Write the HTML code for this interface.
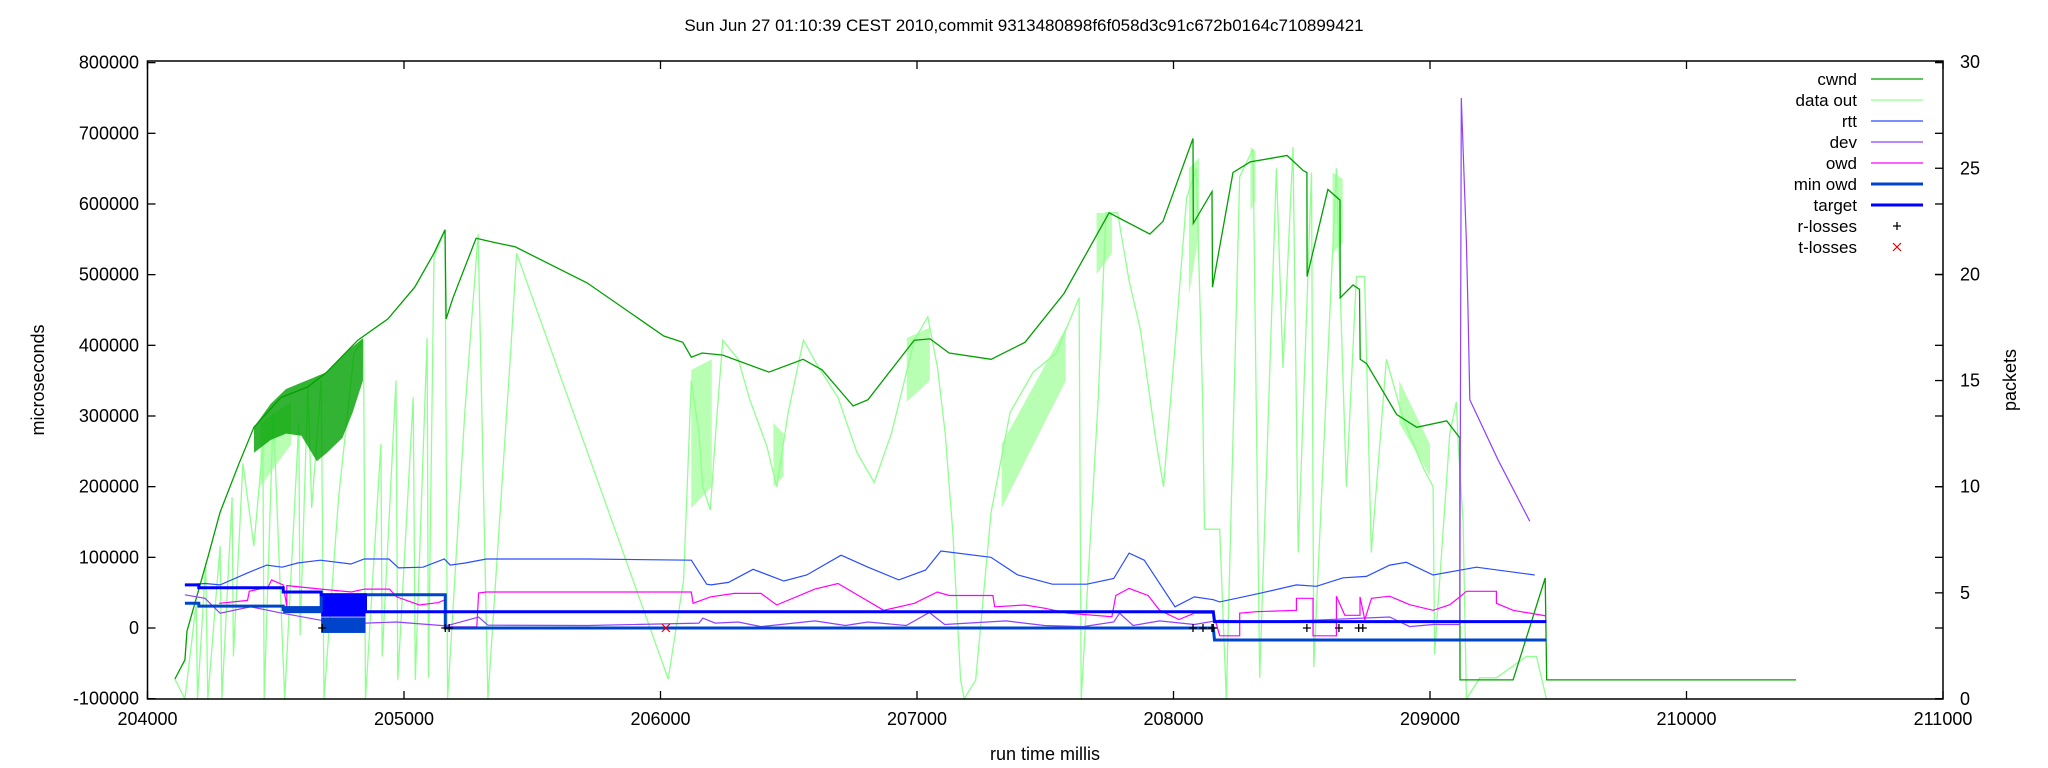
<!DOCTYPE html>
<html><head><meta charset="utf-8"><style>
html,body{margin:0;padding:0;background:#fff;}
svg{display:block;font-family:"Liberation Sans",sans-serif;}
</style></head><body>
<svg id="chart" width="2048" height="768" viewBox="0 0 2048 768">
<defs><clipPath id="plotclip"><rect x="147.5" y="61" width="1795.5" height="638"/></clipPath></defs>
<text x="1024" y="31" text-anchor="middle" font-size="17">Sun Jun 27 01:10:39 CEST 2010,commit 9313480898f6f058d3c91c672b0164c710899421</text>
<g id="axes"></g>
<g id="plot" clip-path="url(#plotclip)"></g>
<rect x="147.5" y="61" width="1795.5" height="638" fill="none" stroke="#000" stroke-width="1.5"/>
<text transform="translate(44,380) rotate(-90)" text-anchor="middle" font-size="18">microseconds</text>
<text transform="translate(2016,380) rotate(-90)" text-anchor="middle" font-size="18">packets</text>
<text x="1045" y="760" text-anchor="middle" font-size="18">run time millis</text>
<g id="legend"></g>
</svg>
<script>
// ---- data ----
const xTicks = [204000,205000,206000,207000,208000,209000,210000,211000];
const yTicks = [-100000,0,100000,200000,300000,400000,500000,600000,700000,800000];
const y2Ticks = [0,5,10,15,20,25,30];

const cwnd = [[204107,0.94],[204146,1.84],[204154,3.2],[204236,6.7],[204283,8.8],[204357,11.1],[204415,12.8],[204520,14.2],[204625,14.7],[204699,15.4],[204820,16.9],[204937,17.9],[205042,19.4],[205117,21.0],[205160,22.1],[205164,17.9],[205191,18.9],[205281,21.7],[205355,21.5],[205433,21.3],[205714,19.6],[206013,17.1],[206087,16.8],[206120,16.1],[206162,16.3],[206243,16.2],[206423,15.4],[206556,16.0],[206630,15.5],[206751,13.8],[206809,14.1],[206989,16.9],[207051,16.96],[207125,16.3],[207289,16.0],[207421,16.8],[207573,19.1],[207749,22.9],[207908,21.9],[207959,22.5],[208076,26.4],[208077,22.4],[208150,23.9],[208152,19.4],[208232,24.8],[208299,25.3],[208443,25.6],[208505,24.9],[208520,24.8],[208521,19.9],[208602,24.0],[208649,23.5],[208650,18.9],[208700,19.5],[208725,19.3],[208728,16.0],[208753,15.8],[208870,13.4],[208948,12.8],[209065,13.1],[209116,12.3],[209117,0.9],[209324,0.9],[209449,5.7],[209455,0.9],[210427,0.9]];
const cwndBandMs = [204415,204480,204540,204600,204660,204700,204760,204800,204840];
const cwndBandHigh = [12.8,13.9,14.6,14.9,15.2,15.4,16.2,16.6,17.0];
const cwndBandLow = [11.6,12.2,12.5,12.4,11.2,11.6,12.3,13.5,15.0];

const dataOut = [[204107,0.94],[204146,0],[204190,4.5],[204195,0],[204227,6.4],[204235,0],[204283,7.2],[204290,0],[204330,9.5],[204335,2],[204372,11.1],[204415,7.2],[204450,12],[204455,0],[204490,13.5],[204535,0],[204590,13],[204595,3],[204625,14.7],[204640,9.0],[204677,15.0],[204688,0],[204745,9.5],[204805,16.3],[204842,16.9],[204850,0],[204910,12],[204915,2],[204969,15.0],[204976,0.9],[205036,14.2],[205044,0.9],[205090,17],[205095,1],[205117,20.8],[205160,22.1],[205170,0],[205237,13.5],[205289,21.9],[205327,0],[205417,16.6],[205439,21.0],[206030,0.94],[206090,5.6],[206120,15.0],[206150,12.5],[206165,10.0],[206194,8.9],[206217,12.9],[206243,16.9],[206303,16.0],[206348,14.1],[206415,11.9],[206453,10.0],[206498,13.5],[206557,16.9],[206617,15.6],[206692,14.2],[206766,11.6],[206833,10.2],[206900,12.5],[206990,16.9],[207042,18.0],[207080,15.6],[207110,12.5],[207140,7.8],[207170,0.9],[207184,0],[207229,0.9],[207289,8.8],[207363,13.5],[207453,15.4],[207543,16.3],[207632,18.9],[207640,0],[207707,14.2],[207737,22.9],[207782,22.9],[207827,19.7],[207871,17.4],[207931,12.2],[207961,10.0],[208006,16.6],[208051,23.6],[208089,25.0],[208114,14.0],[208121,8.0],[208180,8.0],[208206,0],[208258,24.6],[208310,25.9],[208336,1.0],[208401,25.0],[208427,15.6],[208466,26.0],[208486,6.9],[208538,24.8],[208547,1.5],[208635,25.0],[208674,10.0],[208713,19.9],[208745,19.9],[208771,6.9],[208830,16.0],[208895,13.2],[208973,10.9],[209012,10.0],[209018,2.1],[209077,12.5],[209103,14.0],[209110,12.0],[209129,8.4],[209142,0],[209194,1.0],[209259,1.0],[209376,2.0],[209415,2.0],[209454,0]];
const doBandMs = [204440,206120,206440,206960,207330,207700,208060,208300,208620,208880];
const doBandEndMs = [204560,206200,206480,207050,207580,207760,208100,208320,208660,209000];
const doBandLowStart = [10.0,9.0,10.0,14.0,9.0,20.0,19.0,23.0,21.0,13.0];
const doBandHighStart = [13.0,15.5,13.0,17.0,12.0,22.9,25.0,26.0,24.8,15.0];
const doBandLowEnd = [12.0,10.0,10.5,15.0,15.0,21.0,22.0,23.5,21.5,10.5];
const doBandHighEnd = [14.0,16.0,12.5,17.5,17.5,22.9,25.5,25.8,24.5,12.0];

const rtt = [[204146,61000],[204224,63000],[204283,61000],[204390,78000],[204465,89000],[204525,86000],[204585,92000],[204674,96000],[204793,90600],[204845,97600],[204941,97600],[204979,85000],[205074,86000],[205157,97600],[205180,89000],[205239,92000],[205321,97600],[205717,97600],[206120,96000],[206180,62000],[206197,61000],[206265,64500],[206361,83000],[206481,66500],[206570,75000],[206704,103000],[206809,86000],[206929,68000],[207033,82000],[207093,109000],[207288,100000],[207393,75000],[207528,62000],[207662,62000],[207767,70000],[207827,106000],[207886,96000],[208006,30000],[208081,44000],[208155,40000],[208180,37000],[208323,48000],[208479,61000],[208557,59000],[208661,71000],[208752,73000],[208843,89000],[208908,93000],[209012,75000],[209181,86000],[209408,75000]];

const dev = [[204146,47000],[204224,42000],[204283,21000],[204402,30000],[204525,21000],[204674,11000],[204850,7000],[204969,8500],[205164,3000],[205291,15500],[205327,4000],[205717,3500],[206150,7000],[206165,14000],[206213,7000],[206303,8500],[206392,2000],[206602,10000],[206721,3500],[206809,8500],[206958,3500],[207048,22000],[207108,5000],[207347,10000],[207497,3500],[207647,2000],[207767,8500],[207790,21000],[207842,3500],[207946,10000],[208081,5000],[208180,11000],[208323,8500],[208544,11000],[208843,15500],[208921,2000],[209012,5000],[209116,5000],[209122,750000],[209142,546000],[209148,450000],[209155,323000],[209265,238000],[209389,151000]];

const owd = [[204279,35000],[204390,39000],[204397,52000],[204470,58000],[204484,68000],[204529,61000],[204543,30000],[204543,60000],[204677,55000],[204795,51000],[204846,55000],[204943,55000],[204972,44000],[205060,32500],[205134,36000],[205161,40000],[205164,1500],[205284,1500],[205291,49500],[205321,51000],[206120,51000],[206127,35000],[206194,44000],[206288,49000],[206392,49000],[206453,32500],[206602,55000],[206692,63000],[206781,44000],[206870,25000],[206990,35000],[207079,51000],[207125,46000],[207296,46000],[207303,30000],[207421,32500],[207497,28000],[207587,21000],[207760,16000],[207775,46000],[207827,56000],[207901,46000],[207946,25000],[208021,12000],[208081,21000],[208155,21000],[208180,-11000],[208258,-11000],[208258,21000],[208323,23000],[208479,25000],[208479,42000],[208544,42000],[208544,-11000],[208635,-11000],[208635,45000],[208668,18000],[208727,18000],[208727,44000],[208746,12000],[208772,42000],[208843,45000],[208921,33000],[209012,25000],[209077,33000],[209116,44000],[209142,52000],[209259,52000],[209259,35000],[209324,25000],[209454,17000]];

const minOwd = [[204146,35000],[204200,35000],[204200,31000],[204529,31000],[204529,26000],[204677,26000],[204677,47000],[205161,47000],[205161,0],[208155,0],[208160,-17000],[209454,-17000]];
const target = [[204146,61000],[204200,61000],[204200,57000],[204529,57000],[204529,51000],[204677,51000],[204677,47000],[204850,47000],[204850,23000],[208155,23000],[208160,9000],[209454,9000]];
const minOwdBandMs = [204529,204677];
const minOwdBandEndMs = [204677,204850];
const minOwdBandLow = [21000,-7000];
const minOwdBandHigh = [31000,15000];
const targetBandMs = [204677];
const targetBandEndMs = [204850];
const targetBandLow = [16000];
const targetBandHigh = [47000];

const rLosses = [204681,205161,205176,208076,208115,208150,208155,208520,208645,208722,208738];
const tLosses = [206021];

const legendLabels = ['cwnd','data out','rtt','dev','owd','min owd','target','r-losses','t-losses'];
const legendColors = ['#00a000','#90ff90','#2a4cff','#9040ff','#ff00ff','#0044cc','#0000ff','#000000','#e00000'];

// ---- scales ----
const X = ms => 147.5 + (ms - 204000) * 0.2565;
const Y = v => 628 - v * 0.0007067;
const Y2 = p => 699 - p * 21.23;
const NS = 'http://www.w3.org/2000/svg';
function mk(tag, attrs, parent){const e=document.createElementNS(NS,tag);for(const k in attrs)e.setAttribute(k,attrs[k]);parent.appendChild(e);return e;}
const axes=document.getElementById('axes'), plot=document.getElementById('plot'), legend=document.getElementById('legend');

xTicks.forEach(t=>{
  const x=X(t);
  const a=mk('line',{x1:x,x2:x,y1:699,y2:691,stroke:'#000','stroke-width':1.3},axes);
  
  
  const b=mk('line',{x1:x,x2:x,y1:61,y2:69,stroke:'#000','stroke-width':1.3},axes);
  
  
  const tx=mk('text',{x:x,y:725,'text-anchor':'middle','font-size':18},axes);
  tx.textContent=t;
  
  
});
yTicks.forEach(t=>{
  const y=Y(t);
  const a=mk('line',{x1:147.5,x2:155.5,y1:y,y2:y,stroke:'#000','stroke-width':1.3},axes);
  
  
  const b=mk('line',{x1:1935,x2:1943,y1:y,y2:y,stroke:'#000','stroke-width':1.3},axes);
  
  
  const tx=mk('text',{x:139,y:y+6,'text-anchor':'end','font-size':18},axes);
  tx.textContent=t;
  
  
});
y2Ticks.forEach(t=>{
  const y=Y2(t);
  const a=mk('line',{x1:1935,x2:1943,y1:y,y2:y,stroke:'#000','stroke-width':1.3},axes);
  
  
  const tx=mk('text',{x:1960,y:y+6,'text-anchor':'start','font-size':18},axes);
  tx.textContent=t;
  
  
});

function pathFrom(pts, fy){return pts.map((p,i)=>(i?'L':'M')+X(p[0]).toFixed(1)+' '+fy(p[1]).toFixed(1)).join(' ');}
function band(ms, endMs, lo, hi, fy, color, name){
  ms.forEach((m,i)=>{
    const x0=X(m), x1=X(endMs[i]), yt=fy(hi[i]), yb=fy(lo[i]);
    const r=mk('rect',{x:x0,y:yt,width:Math.max(1,x1-x0),height:Math.max(1,yb-yt),fill:color},plot);
    
    
  });
}

// data out dense regions (parallelograms)
doBandMs.forEach((m,i)=>{
  const x0=X(m), x1=X(doBandEndMs[i]);
  const pts=[x0+','+Y2(doBandHighStart[i]), x1+','+Y2(doBandHighEnd[i]), x1+','+Y2(doBandLowEnd[i]), x0+','+Y2(doBandLowStart[i])].join(' ');
  const g=mk('polygon',{points:pts,fill:'#a8ffa0','fill-opacity':0.8},plot);
  
  
});
let p=mk('path',{d:pathFrom(dataOut,Y2),fill:'none',stroke:'#90ff90','stroke-width':1.3},plot);


// cwnd band as dense polygon
const bandPts=cwndBandMs.map((m,i)=>X(m)+','+Y2(cwndBandHigh[i])).concat(cwndBandMs.slice().reverse().map((m,j)=>{const i=cwndBandMs.length-1-j;return X(m)+','+Y2(cwndBandLow[i]);}));
p=mk('polygon',{points:bandPts.join(' '),fill:'#00a000','fill-opacity':0.8},plot);


p=mk('path',{d:pathFrom(cwnd,Y2),fill:'none',stroke:'#00a000','stroke-width':1.3},plot);


p=mk('path',{d:pathFrom(rtt,Y),fill:'none',stroke:'#2a4cff','stroke-width':1.2},plot);


p=mk('path',{d:pathFrom(dev,Y),fill:'none',stroke:'#9040ff','stroke-width':1.2},plot);


p=mk('path',{d:pathFrom(owd,Y),fill:'none',stroke:'#ff00ff','stroke-width':1.2},plot);


band(minOwdBandMs,minOwdBandEndMs,minOwdBandLow,minOwdBandHigh,Y,'#0044cc','min-owd-band');
band(targetBandMs,targetBandEndMs,targetBandLow,targetBandHigh,Y,'#0000ff','target-band');
p=mk('path',{d:pathFrom(minOwd,Y),fill:'none',stroke:'#0044cc','stroke-width':3},plot);


p=mk('path',{d:pathFrom(target,Y),fill:'none',stroke:'#0000ff','stroke-width':3},plot);


rLosses.forEach(m=>{
  const x=X(m), y=Y(0);
  const g=mk('path',{d:`M${x-4} ${y}L${x+4} ${y}M${x} ${y-4}L${x} ${y+4}`,stroke:'#000','stroke-width':1.3},plot);
  
  
});
tLosses.forEach(m=>{
  const x=X(m), y=Y(0);
  const g=mk('path',{d:`M${x-4} ${y-4}L${x+4} ${y+4}M${x+4} ${y-4}L${x-4} ${y+4}`,stroke:'#e00000','stroke-width':1.2},plot);
  
  
});

// legend
legendLabels.forEach((lab,i)=>{
  const y=79+i*21;
  const t=mk('text',{x:1857,y:y+6,'text-anchor':'end','font-size':17},legend);
  t.textContent=lab;
  
  
  let s;
  if(i===7){s=mk('path',{d:`M1893 ${y}L1901 ${y}M1897 ${y-4}L1897 ${y+4}`,stroke:legendColors[i],'stroke-width':1.3},legend);}
  else if(i===8){s=mk('path',{d:`M1893 ${y-4}L1901 ${y+4}M1901 ${y-4}L1893 ${y+4}`,stroke:legendColors[i],'stroke-width':1.2},legend);}
  else {s=mk('line',{x1:1871,x2:1923,y1:y,y2:y,stroke:legendColors[i],'stroke-width':(i===5||i===6)?3:1.3},legend);}
  
  
});
</script>
</body></html>
